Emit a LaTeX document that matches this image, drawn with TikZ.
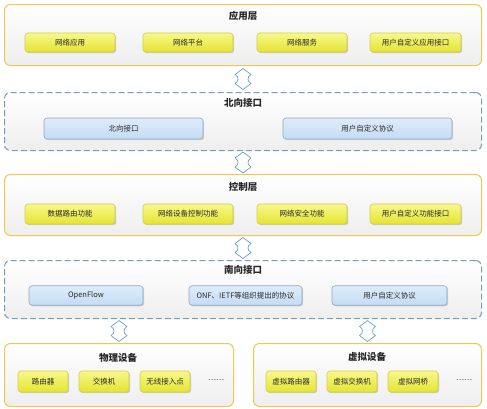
\documentclass[tikz,border=0pt]{standalone}
\usepackage{fontspec}
\setmainfont{Noto Sans CJK SC}
\usetikzlibrary{shadows,calc}
\definecolor{goldline}{RGB}{240,200,80}
\definecolor{panelbot}{RGB}{238,238,238}
\definecolor{ylwtop}{RGB}{248,248,140}
\definecolor{ylwbot}{RGB}{228,228,50}
\definecolor{ylwline}{RGB}{214,204,70}
\definecolor{blutop}{RGB}{222,236,250}
\definecolor{blubot}{RGB}{196,220,244}
\definecolor{bluline}{RGB}{140,168,200}
\definecolor{dashline}{RGB}{120,156,192}
\definecolor{arrline}{RGB}{110,160,210}
\definecolor{txt}{RGB}{40,40,40}
\tikzset{
  panel/.style={draw=goldline, line width=1pt, rounded corners=6pt, top color=white, bottom color=panelbot},
  dpanel/.style={draw=dashline, line width=1pt, dash pattern=on 6pt off 3pt, rounded corners=6pt, top color=white, bottom color=panelbot},
  ttl/.style={font=\bfseries\fontsize{9.5}{10}\selectfont, text=txt},
  ybox/.style={draw=ylwline, line width=0.6pt, rounded corners=3pt, top color=ylwtop, bottom color=ylwbot, drop shadow={shadow xshift=1.2pt, shadow yshift=-1.2pt, opacity=0.35}, font=\fontsize{7.5}{8}\selectfont, text=txt, inner sep=0pt},
  bbox/.style={draw=bluline, line width=0.6pt, rounded corners=3pt, top color=blutop, bottom color=blubot, drop shadow={shadow xshift=1.2pt, shadow yshift=-1.2pt, opacity=0.3}, font=\fontsize{7.5}{8}\selectfont, text=txt, inner sep=0pt},
  dots/.style={font=\fontsize{7.5}{8}\selectfont, text=txt},
  dblarrow/.pic={
    \draw[arrline, line width=0.7pt, fill=white, line join=round]
      (0,10.5) -- (8,4.5) .. controls (4,2.5) and (4,-2.5) .. (8,-4.5)
      -- (0,-10.5) -- (-8,-4.5) .. controls (-4,-2.5) and (-4,2.5) .. (-8,4.5) -- cycle;
  }
}
\begin{document}
\begin{tikzpicture}[x=1pt, y=-1pt]
\useasboundingbox (0,0) rectangle (487,408);
% panels
\node[panel, minimum width=477pt, minimum height=61pt, anchor=north west] (app) at (4,4) {};
\node[dpanel, minimum width=477pt, minimum height=58pt, anchor=north west] (north) at (4,92) {};
\node[panel, minimum width=477pt, minimum height=61pt, anchor=north west] (ctrl) at (4,174) {};
\node[dpanel, minimum width=477pt, minimum height=58pt, anchor=north west] (south) at (4,260) {};
\node[panel, minimum width=229pt, minimum height=63pt, anchor=north west] (phys) at (4,343) {};
\node[panel, minimum width=228pt, minimum height=63pt, anchor=north west] (virt) at (253,343) {};
% titles
\node[ttl] (appt) at (243,16) {应用层};
\node[ttl] (northt) at (243,103) {北向接口};
\node[ttl] (ctrlt) at (243,187) {控制层};
\node[ttl] (southt) at (243,270) {南向接口};
\node[ttl] (physt) at (118,358) {物理设备};
\node[ttl] (virtt) at (367,357) {虚拟设备};
% application layer
\node[ybox, minimum width=90pt, minimum height=19pt] (a1) at (70,42.5) {网络应用};
\node[ybox, minimum width=90pt, minimum height=19pt] (a2) at (188,42.5) {网络平台};
\node[ybox, minimum width=90pt, minimum height=19pt] (a3) at (302,42.5) {网络服务};
\node[ybox, minimum width=91pt, minimum height=19pt] (a4) at (415.5,42.5) {用户自定义应用接口};
% north interface
\node[bbox, minimum width=159pt, minimum height=21pt] (n1) at (123.5,128.5) {北向接口};
\node[bbox, minimum width=169pt, minimum height=21pt] (n2) at (367.5,128.5) {用户自定义协议};
% control layer
\node[ybox, minimum width=90pt, minimum height=20pt] (c1) at (70,214) {数据路由功能};
\node[ybox, minimum width=90pt, minimum height=20pt] (c2) at (188,214) {网络设备控制功能};
\node[ybox, minimum width=90pt, minimum height=20pt] (c3) at (302,214) {网络安全功能};
\node[ybox, minimum width=91pt, minimum height=20pt] (c4) at (415.5,214) {用户自定义功能接口};
% south interface
\node[bbox, minimum width=114pt, minimum height=19.5pt] (s1) at (86,295.5) {OpenFlow};
\node[bbox, minimum width=113pt, minimum height=19.5pt] (s2) at (245.5,295.5) {ONF、IETF等组织提出的协议};
\node[bbox, minimum width=115pt, minimum height=19.5pt] (s3) at (389.5,295.5) {用户自定义协议};
% physical devices
\node[ybox, minimum width=50pt, minimum height=21pt] (p1) at (43,381.5) {路由器};
\node[ybox, minimum width=50pt, minimum height=21pt] (p2) at (104,381.5) {交换机};
\node[ybox, minimum width=50pt, minimum height=21pt] (p3) at (165,381.5) {无线接入点};
\node[dots] (p4) at (216,380.5) {……};
% virtual devices
\node[ybox, minimum width=50pt, minimum height=21pt] (v1) at (291,381.5) {虚拟路由器};
\node[ybox, minimum width=50pt, minimum height=21pt] (v2) at (352,381.5) {虚拟交换机};
\node[ybox, minimum width=50pt, minimum height=21pt] (v3) at (413,381.5) {虚拟网桥};
\node[dots] (v4) at (464,380.5) {……};
% connectors (double arrows)
\pic at ($(app.south)!0.5!(north.north)$) {dblarrow};
\pic at ($(north.south)!0.5!(ctrl.north)$) {dblarrow};
\pic at ($(ctrl.south)!0.5!(south.north)$) {dblarrow};
\pic at ($(south.south -| phys.north)!0.5!(phys.north)$) {dblarrow};
\pic at ($(south.south -| virt.north)!0.5!(virt.north)$) {dblarrow};
\end{tikzpicture}
\end{document}
